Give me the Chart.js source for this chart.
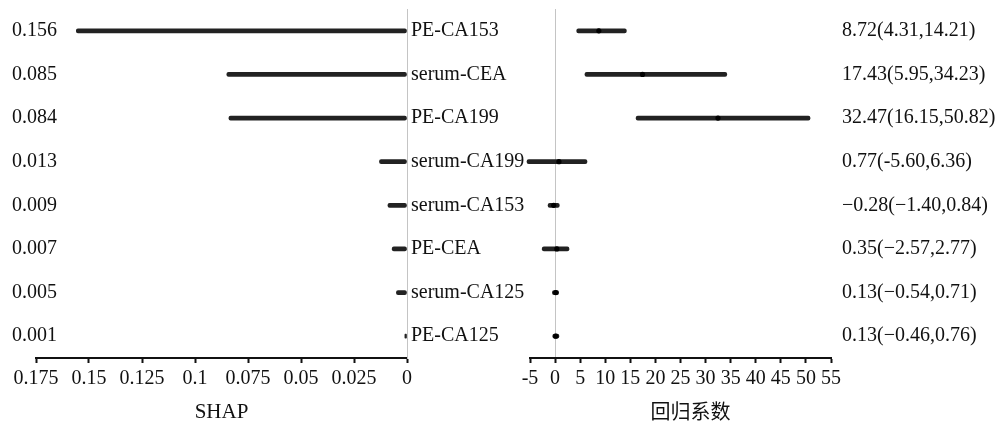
<!DOCTYPE html>
<html>
<head>
<meta charset="utf-8">
<script src="https://cdn.jsdelivr.net/npm/chart.js@4.4.0/dist/chart.umd.min.js"></script>
<style>
  html, body { margin: 0; padding: 0; background: #fff; }
  #wrap { position: relative; width: 1007px; height: 423px; }
  #shapChart { position: absolute; left: 0; top: 0; }
  #coefChart { position: absolute; left: 520px; top: 0; }
</style>
</head>
<body>
<div id="wrap">
  <canvas id="shapChart" width="560" height="423"></canvas>
  <canvas id="coefChart" width="487" height="423"></canvas>
</div>
<script>
const markers = ["PE-CA153", "serum-CEA", "PE-CA199", "serum-CA199", "serum-CA153", "PE-CEA", "serum-CA125", "PE-CA125"];
const shapValues = [0.156, 0.085, 0.084, 0.013, 0.009, 0.007, 0.005, 0.001];
const shapLabels = ["0.156", "0.085", "0.084", "0.013", "0.009", "0.007", "0.005", "0.001"];
const coef = [8.72, 17.43, 32.47, 0.77, -0.28, 0.35, 0.13, 0.13];
const ciLow = [4.31, 5.95, 16.15, -5.60, -1.40, -2.57, -0.54, -0.46];
const ciHigh = [14.21, 34.23, 50.82, 6.36, 0.84, 2.77, 0.71, 0.76];
const coefLabels = ["8.72(4.31,14.21)", "17.43(5.95,34.23)", "32.47(16.15,50.82)", "0.77(-5.60,6.36)",
  "\u22120.28(\u22121.40,0.84)", "0.35(\u22122.57,2.77)", "0.13(\u22120.54,0.71)", "0.13(\u22120.46,0.76)"];

const serif = "'Liberation Serif', 'Times New Roman', serif";
const tickFont = { family: serif, size: 20 };
const barColor = "#222222";

Chart.defaults.animation = false;
Chart.defaults.color = "#111";

// axes should not push the plot area around, the layout padding decides it
const noVPad = s => { s.paddingTop = 0; s.paddingBottom = 0; };
const noHPad = s => { s.paddingLeft = 0; s.paddingRight = 0; };

// left panel: SHAP importance
new Chart(document.getElementById("shapChart"), {
  type: "bar",
  data: {
    labels: markers,
    datasets: [{
      data: shapValues.map(v => [0, v]),
      backgroundColor: barColor,
      barThickness: 4,
      borderRadius: 2,
      borderSkipped: false,
    }],
  },
  options: {
    indexAxis: "y",
    responsive: false,
    plugins: { legend: { display: false }, tooltip: { enabled: false } },
    layout: { autoPadding: false, padding: { left: 0, top: 9, bottom: 0, right: 0 } },
    scales: {
      x: {
        reverse: true,
        min: 0,
        max: 0.175,
        ticks: { stepSize: 0.025, font: tickFont, padding: 4, maxRotation: 0,
          callback: v => String(Math.round(v * 1000) / 1000) },
        grid: { drawOnChartArea: false, tickLength: 5, tickColor: "#111", tickWidth: 2 },
        border: { color: "#111", width: 2 },
        title: { display: true, text: "SHAP", font: { family: serif, size: 21 }, padding: { top: 8, bottom: -2 } },
        afterFit: s => { s.height = 65; noHPad(s); },
      },
      y: {
        position: "left",
        ticks: { font: tickFont, mirror: true, padding: -24,
          callback: (v, i) => shapLabels[i] },
        grid: { display: false, drawTicks: false },
        border: { display: false },
        afterFit: s => { s.width = 36; noVPad(s); },
      },
      y2: {
        position: "right",
        type: "category",
        labels: markers,
        ticks: { font: tickFont, padding: 4 },
        grid: { display: false, drawTicks: false },
        border: { color: "#c4c4c4", width: 1 },
        afterFit: s => { s.width = 153; noVPad(s); },
      },
    },
  },
});

// right panel: regression coefficients with 95% CI
new Chart(document.getElementById("coefChart"), {
  type: "bar",
  data: {
    labels: markers,
    datasets: [{
      type: "line",
      indexAxis: "y",
      data: coef,
      showLine: false,
      pointRadius: 2.6,
      pointBackgroundColor: "#000",
      pointBorderWidth: 0,
      clip: false,
    }, {
      data: ciLow.map((lo, i) => [lo, ciHigh[i]]),
      backgroundColor: barColor,
      barThickness: 4,
      borderRadius: 2,
      borderSkipped: false,
      clip: false,
    }],
  },
  options: {
    indexAxis: "y",
    responsive: false,
    plugins: { legend: { display: false }, tooltip: { enabled: false } },
    layout: { autoPadding: false, padding: { left: 10, top: 9, bottom: 0, right: 0 } },
    scales: {
      x: {
        min: -5,
        max: 55,
        ticks: { stepSize: 5, font: tickFont, padding: 4, maxRotation: 0 },
        grid: {
          drawOnChartArea: true,
          color: c => (c.tick && c.tick.value === 0 ? "#c4c4c4" : "rgba(0,0,0,0)"),
          tickLength: 5, tickColor: "#111", tickWidth: 2,
        },
        border: { color: "#111", width: 2 },
        title: { display: true, text: "\u2002\u2002回归系数", font: { family: "'Noto Sans CJK SC', sans-serif", size: 20 }, padding: { top: 6, bottom: 0 } },
        afterFit: s => { s.height = 65; noHPad(s); },
      },
      y: {
        position: "right",
        ticks: { font: tickFont, padding: 11, callback: (v, i) => coefLabels[i] },
        grid: { display: false, drawTicks: false },
        border: { display: false },
        afterFit: s => { s.width = 176; noVPad(s); },
      },
    },
  },
});
</script>
</body>
</html>
